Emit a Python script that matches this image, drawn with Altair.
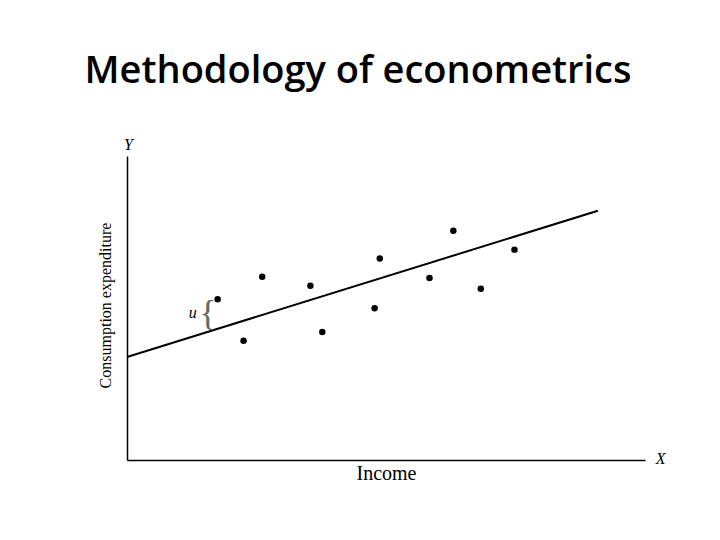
import altair as alt
import pandas as pd

# Scatter points (income, consumption), in arbitrary units
inc = [17.5, 22.5, 26.1, 35.4, 37.7, 48.8, 47.8, 58.4, 63.0, 68.3, 74.8]
cons = [52.9, 39.2, 60.3, 57.3, 42.1, 66.3, 49.9, 59.9, 75.4, 56.3, 69.2]

# Regression line end points
line_x = [0.0, 90.9]
line_y = [33.9, 82.0]

# Annotations
ann_text = ["Y", "X", "u"]
ann_x = [0.3, 103.0, 12.7]
ann_y = [103.6, 0.3, 48.4]

brace_x = [15.6]
brace_y = [47.9]

pts = pd.DataFrame({"x": inc, "y": cons})
ln = pd.DataFrame({"x": line_x, "y": line_y})
ann = pd.DataFrame({"t": ann_text, "x": ann_x, "y": ann_y})
br = pd.DataFrame({"t": ["{"], "x": brace_x, "y": brace_y})

xs = alt.Scale(domain=[0, 100], nice=False, zero=False)
ys = alt.Scale(domain=[0, 100], nice=False, zero=False)

base_x = alt.X("x:Q", scale=xs, axis=alt.Axis(
    title="Income", grid=False, ticks=False, labels=False,
    domainColor="black", domainWidth=1.5,
    titleFont="Liberation Serif", titleFontSize=20, titleFontWeight="normal",
    titleColor="black", titleY=13, titleBaseline="middle", titleX=259))
base_y = alt.Y("y:Q", scale=ys, axis=alt.Axis(
    title="Consumption expenditure", grid=False, ticks=False, labels=False,
    domainColor="black", domainWidth=1.5,
    titleFont="Liberation Serif", titleFontSize=16, titleFontWeight="normal",
    titleColor="black", titleX=-22, titleY=149, titleBaseline="middle", titleAngle=-90))

points = alt.Chart(pts).mark_point(shape="circle", filled=True, size=42, color="black",
                                   opacity=1).encode(x=base_x, y=base_y)
line = alt.Chart(ln).mark_line(color="black", strokeWidth=2).encode(x="x:Q", y="y:Q")
labels = alt.Chart(ann).mark_text(font="Liberation Serif", fontStyle="italic", fontSize=16,
                                  color="black", clip=False).encode(x="x:Q", y="y:Q", text="t:N")
brace = alt.Chart(br).mark_text(font="Liberation Serif", fontSize=36, color="#666666",
                                clip=False).encode(x="x:Q", y="y:Q", text="t:N")

chart = alt.layer(line, points, labels, brace).properties(
    width=518, height=304,
    autosize=alt.AutoSizeParams(type="none"),
    padding={"left": 119, "top": 148, "right": 40, "bottom": 60},
    title=alt.TitleParams("Methodology of econometrics", font="Open Sans", fontSize=38,
                          fontWeight=600, color="black", anchor="middle",
                          offset=46, dx=-28),
).configure_view(stroke=None)

chart.save("out.html", embed_options={"renderer": "svg", "actions": False})
